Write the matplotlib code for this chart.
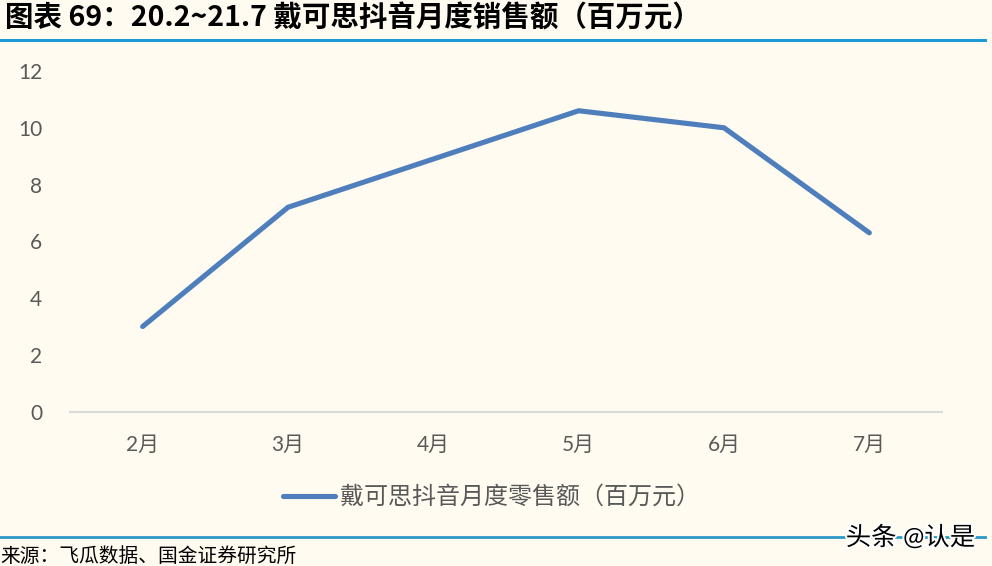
import matplotlib
matplotlib.use("Agg")
import matplotlib.pyplot as plt
from matplotlib.lines import Line2D
import matplotlib.patheffects as pe

months = ["2月", "3月", "4月", "5月", "6月", "7月"]
sales = [3.0, 7.2, 8.9, 10.6, 10.0, 6.3]
yticks = [0, 2, 4, 6, 8, 10, 12]
series_name = "戴可思抖音月度零售额（百万元）"
title = "图表 69：20.2~21.7 戴可思抖音月度销售额（百万元）"
source = "来源：飞瓜数据、国金证券研究所"
watermark = "头条 @认是"

BG = "#FFFBF1"
LINE = "#4E7FBC"
GRAY = "#595959"
CJK = ["Lato", "Noto Sans CJK SC", "DejaVu Sans"]

plt.rcParams["font.family"] = CJK

fig = plt.figure(figsize=(9.92, 5.66), dpi=100, facecolor=BG)
ax = fig.add_axes([70/992, 1-411.7/566, 872/992, (411.7-71)/566])
ax.set_facecolor(BG)

x = list(range(len(months)))
ax.plot(x, sales, color=LINE, lw=3.7, solid_capstyle="round", solid_joinstyle="miter")
ax.set_xlim(-0.5, len(months)-0.5)
ax.set_ylim(0, 12)
ax.set_yticks(yticks)
ax.set_yticklabels([str(t) for t in yticks])
ax.set_xticks(x)
ax.set_xticklabels(months)
for s in ["top", "right", "left"]:
    ax.spines[s].set_visible(False)
ax.spines["bottom"].set_color("#D9D9D9")
ax.spines["bottom"].set_linewidth(1.5)
ax.tick_params(axis="both", length=0, labelsize=15, labelcolor=GRAY)
ax.tick_params(axis="y", pad=20)
ax.tick_params(axis="x", pad=16.5)

# title
fig.text(5/992, 1-19/566, title, fontsize=20.5, fontweight="bold", fontstyle="italic",
         family=["Liberation Sans Narrow", "Noto Sans CJK SC", "DejaVu Sans"],
         ha="left", va="center", color="black")
fig.add_artist(Line2D([0, 985/992], [1-40/566, 1-40/566], color="#1E9AD6", lw=2.2))

# legend
leg_y = 1-496/566
fig.add_artist(Line2D([283/992, 335/992], [leg_y, leg_y], color=LINE, lw=3.7, solid_capstyle="round"))
fig.text(340/992, leg_y, series_name, fontsize=17.3, color=GRAY, ha="left", va="center")

# bottom line and source
fig.add_artist(Line2D([0, 985/992], [1-537/566, 1-537/566], color="#2C9AC8", lw=2.0))
fig.text(0/992, 1-555/566, source, fontsize=14.2, color="black", ha="left", va="center")
t = fig.text(975/992, 1-537/566, watermark, fontsize=18.3, color="black", ha="right", va="center")
t.set_path_effects([pe.withStroke(linewidth=3, foreground="white")])

fig.savefig("out.png", dpi=100, facecolor=BG)
